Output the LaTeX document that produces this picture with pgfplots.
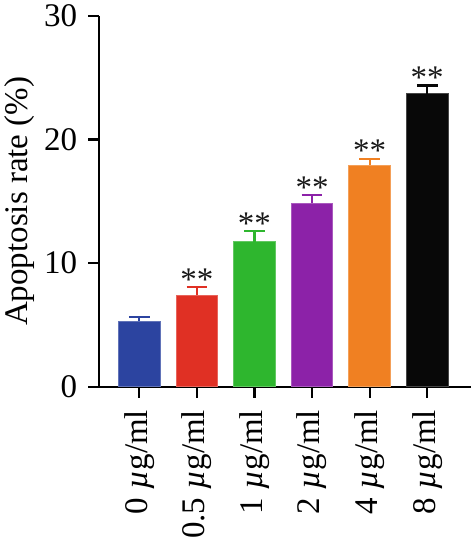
\documentclass[border=0pt]{standalone}
\usepackage{fontspec}
\setmainfont{Liberation Serif}
\usepackage{pgfplots}
\pgfplotsset{compat=1.18}

\definecolor{cblue}{RGB}{44,68,160}
\definecolor{cred}{RGB}{224,48,36}
\definecolor{cgreen}{RGB}{46,182,46}
\definecolor{cpurple}{RGB}{140,34,168}
\definecolor{corange}{RGB}{240,128,34}
\definecolor{cblack}{RGB}{8,8,8}

\newcommand{\bigfont}{\fontsize{33bp}{40bp}\selectfont}
\newcommand{\mug}{\textit{µ}g/ml}

\pgfplotsset{
  dosebar/.style={
    fill=#1, draw=#1!75!white, line width=0.8bp,
    error bars/.cd, y dir=plus, y explicit,
    error bar style={color=#1, line width=2.2bp},
    error mark options={rotate=90, mark size=10.3bp, line width=2.2bp, color=#1},
  },
}

\begin{document}
\begin{tikzpicture}
\begin{axis}[
  at={(0,0)}, anchor=south west,
  scale only axis, width=371.7bp, height=370.7bp,
  xmin=-0.694, xmax=5.76, ymin=0, ymax=30,
  axis x line*=bottom, axis y line*=left,
  axis line style={line width=2.2bp, black},
  ybar, bar width=41.7bp, bar shift=0pt,
  ytick={0,10,20,30},
  xtick={0,1,2,3,4,5},
  xticklabels={0 \mug, 0.5 \mug, 1 \mug, 2 \mug, 4 \mug, 8 \mug},
  tick align=outside, major tick length=11bp,
  tick style={line width=2.2bp, black},
  minor tick num=0,
  /pgf/number format/assume math mode=true,
  ticklabel style={font=\bigfont},
  x tick label style={yshift=-12bp, rotate=90, anchor=east, inner sep=0pt},
  y tick label style={anchor=east, inner sep=0pt, xshift=-11bp},
  every axis y label/.style={at={(axis description cs:0,0.5)}, xshift=-79.3bp,
    rotate=90, anchor=center, font=\bigfont},
  ylabel={Apoptosis rate (\%)},
  clip=false,
]
% mean +- SEM for each dose
\addplot[dosebar=cblue]   coordinates {(0,5.29)  +- (0,0.37)};
\addplot[dosebar=cred]    coordinates {(1,7.42)  +- (0,0.62)};
\addplot[dosebar=cgreen]  coordinates {(2,11.73) +- (0,0.84)};
\addplot[dosebar=cpurple] coordinates {(3,14.84) +- (0,0.65)};
\addplot[dosebar=corange] coordinates {(4,17.94) +- (0,0.51)};
\addplot[dosebar=cblack]  coordinates {(5,23.70) +- (0,0.68)};
% significance marks sit on top of the error bars
\addplot[sharp plot, draw=none, mark=none,
  nodes near coords={**},
  nodes near coords style={font=\bigfont, anchor=base, inner sep=0pt,
    yshift=-3bp, text=black!90}]
  coordinates {(1,8.04) (2,12.57) (3,15.49) (4,18.45) (5,24.38)};
\end{axis}
\pgfresetboundingbox
\path (-99.3bp,-151.3bp) rectangle (371.7bp,386.7bp);
\end{tikzpicture}
\end{document}
